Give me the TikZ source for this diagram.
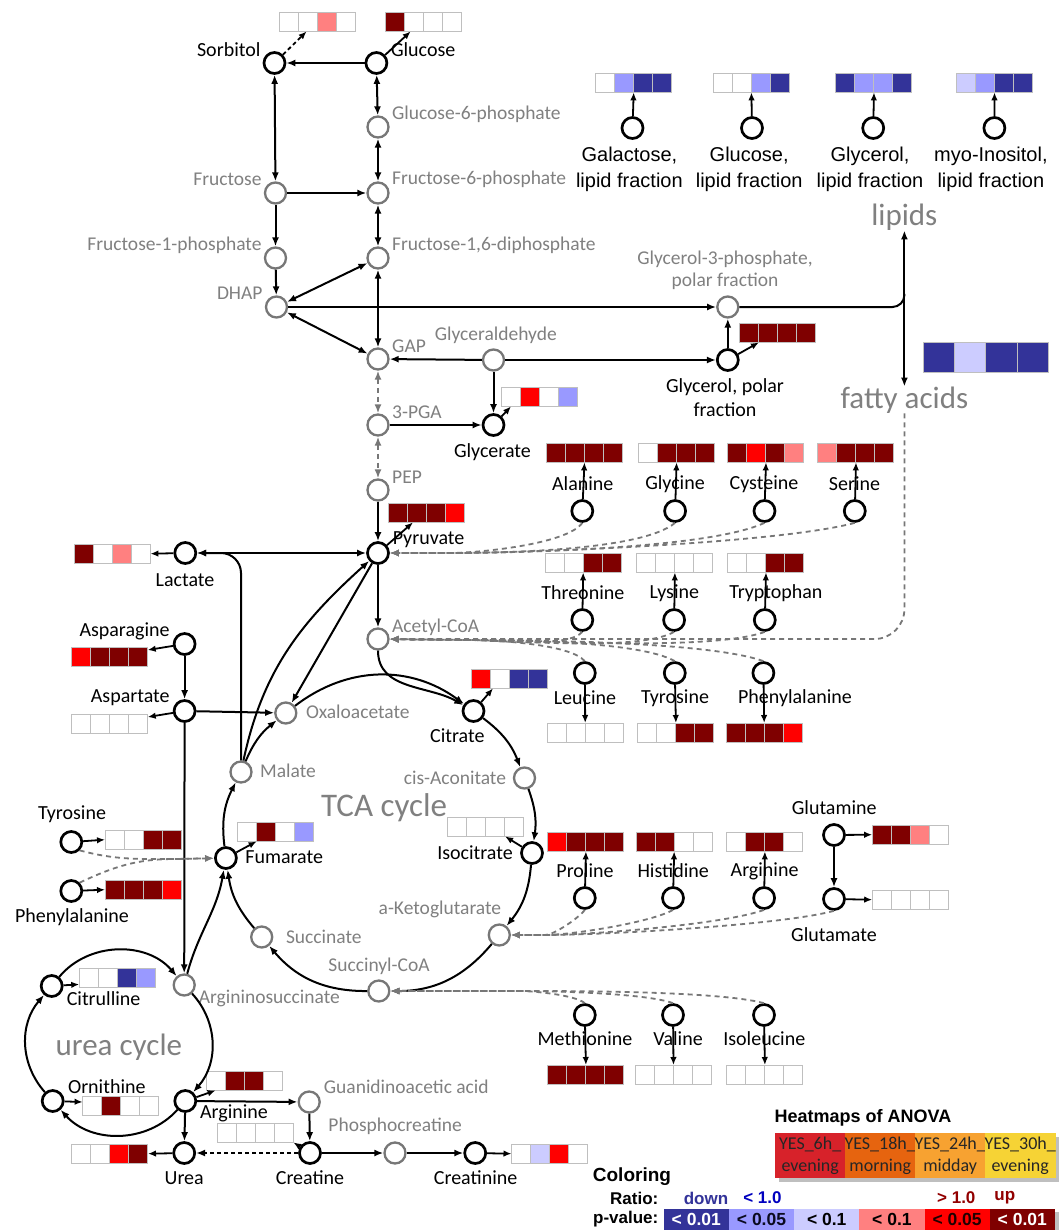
\documentclass[tikz,border=0pt]{standalone}
\usepackage{fontspec}
\setmainfont{Carlito}
\newfontfamily\arialfont{Liberation Sans}
\usetikzlibrary{arrows.meta, calc}

\definecolor{hmD}{HTML}{7F0000}
\definecolor{hmR}{HTML}{FF0000}
\definecolor{hmP}{HTML}{FF8080}
\definecolor{hmB}{HTML}{333399}
\definecolor{hmM}{HTML}{9999FF}
\definecolor{hmL}{HTML}{CCCCFF}
\definecolor{pathgray}{HTML}{777777}
\definecolor{txtgray}{HTML}{808080}
\definecolor{anA}{HTML}{D7222A}
\definecolor{anB}{HTML}{E6640F}
\definecolor{anC}{HTML}{F7A231}
\definecolor{anD}{HTML}{F6D335}

% heatmap: name, x, y (top left, pixels), four colours
\newcommand{\hmap}[7]{%
  \foreach \col [count=\i from 0] in {#4,#5,#6,#7}
    \draw[hmcell, fill=\col] (#2+19*\i,-#3) rectangle ++(19,-19);
  \node[hmbox, anchor=north west] (#1) at (#2,-#3) {};
}

\tikzset{
  met/.style={circle, draw=black, line width=2.7pt, minimum size=21pt, inner sep=0pt, fill=white},
  pmet/.style={met, draw=pathgray, line width=2.3pt},
  lbl/.style={inner sep=0pt, font=\fontsize{20}{24}\selectfont},
  glbl/.style={inner sep=0pt, text=txtgray, font=\fontsize{19.5}{22}\selectfont},
  biglbl/.style={inner sep=0pt, text=txtgray, font=\fontsize{31}{34}\selectfont},
  flbl/.style={inner sep=0pt, align=center, font=\arialfont\fontsize{20}{26}\selectfont},
  hmcell/.style={draw=black!25, line width=0.9pt},
  hmbox/.style={inner sep=0pt, minimum width=76pt, minimum height=19pt},
  line/.style={line width=2pt},
  arr/.style={line width=2pt, -{Latex[length=9pt,width=7pt]}},
  darr/.style={line width=2pt, {Latex[length=9pt,width=7pt]}-{Latex[length=9pt,width=7pt]}},
  hmarr/.style={line width=1.8pt, -{Latex[length=8pt,width=6.5pt]}},
  gdash/.style={line width=1.8pt, pathgray, dash pattern=on 5pt off 4pt, -{Latex[length=9pt,width=7pt]}},
  gdarr/.style={gdash, {Latex[length=9pt,width=7pt]}-{Latex[length=9pt,width=7pt]}},
  anova/.style={minimum width=70pt, minimum height=45pt, inner sep=0pt, align=center, text=black!85, font=\fontsize{18}{22}\selectfont},
  leg/.style={inner sep=0pt, font=\arialfont\bfseries\fontsize{17}{19}\selectfont},
  pcell/.style={minimum width=65.2pt, minimum height=21pt, inner sep=0pt, leg, font=\arialfont\bfseries\fontsize{17.5}{19}\selectfont},
}

\begin{document}
\begin{tikzpicture}[x=1pt, y=1pt]
\useasboundingbox (0,0) rectangle (1063,-1230);
\fill[white] (0,0) rectangle (1063,-1230);

% heatmaps
\hmap{hsorb}{279.6}{12}{white}{white}{hmP}{white}
\hmap{hglc}{385.7}{12}{hmD}{white}{white}{white}
\hmap{hgal}{595.5}{73}{white}{hmM}{hmB}{hmB}
\hmap{hglcL}{713.2}{73}{white}{white}{hmM}{hmB}
\hmap{hglyL}{835.8}{73}{hmB}{hmM}{hmM}{hmB}
\hmap{hino}{956.3}{73}{hmL}{hmM}{hmB}{hmB}
\hmap{hglyp}{739.9}{323}{hmD}{hmD}{hmD}{hmD}
\hmap{hglyc}{501}{387}{white}{hmR}{white}{hmM}
\hmap{hpyr}{388}{503}{hmD}{hmD}{hmD}{hmR}
\hmap{hlac}{74}{544}{hmD}{white}{hmP}{white}
\hmap{hala}{546.3}{443}{hmD}{hmD}{hmD}{hmD}
\hmap{hgly}{638.4}{443}{white}{hmD}{hmD}{hmD}
\hmap{hcys}{727.8}{443}{hmD}{hmR}{hmD}{hmP}
\hmap{hser}{817.8}{443}{hmP}{hmD}{hmD}{hmD}
\hmap{hthr}{545}{553}{white}{white}{hmD}{hmD}
\hmap{hlys}{636.7}{553}{white}{white}{white}{white}
\hmap{htrp}{727.8}{553}{white}{white}{hmD}{hmD}
\hmap{hasn}{71.3}{647}{hmR}{hmD}{hmD}{hmD}
\hmap{hasp}{71.3}{714}{white}{white}{white}{white}
\hmap{hcit}{471}{669}{hmR}{white}{hmB}{hmB}
\hmap{hleu}{547}{723}{white}{white}{white}{white}
\hmap{htyr}{637.7}{723}{white}{white}{hmD}{hmD}
\hmap{hphe}{726}{723}{hmD}{hmD}{hmD}{hmR}
\hmap{hiso}{447.7}{817}{white}{white}{white}{white}
\hmap{hfum}{237.6}{822}{white}{hmD}{white}{hmM}
\hmap{htyrL}{105}{830}{white}{white}{hmD}{hmD}
\hmap{hpheL}{105}{880}{hmD}{hmD}{hmD}{hmR}
\hmap{hpro}{547.7}{832}{hmR}{hmD}{hmD}{hmD}
\hmap{hhis}{636}{832}{hmD}{hmD}{white}{white}
\hmap{hargR}{726.7}{832}{white}{hmD}{hmD}{white}
\hmap{hgln}{872.2}{825}{hmD}{hmD}{hmP}{white}
\hmap{hglu}{872.2}{890}{white}{white}{white}{white}
\hmap{hcitr}{79.2}{968}{white}{white}{hmB}{hmM}
\hmap{hmet}{547.7}{1065}{hmD}{hmD}{hmD}{hmD}
\hmap{hval}{635.3}{1065}{white}{white}{white}{white}
\hmap{hile}{726.7}{1065}{white}{white}{white}{white}
\hmap{hargU}{206.6}{1071}{white}{hmD}{hmD}{white}
\hmap{horn}{82.6}{1096}{white}{hmD}{white}{white}
\hmap{hcrt}{217}{1123}{white}{white}{white}{white}
\hmap{hurea}{71.6}{1144}{white}{white}{hmR}{hmD}
\hmap{hcrn}{511.5}{1144}{white}{hmL}{hmR}{white}
\foreach \col [count=\i from 0] in {hmB,hmL,hmB,hmB}
  \draw[hmcell, fill=\col] (923.4+31.2*\i,-342) rectangle ++(31.2,-30);

% labels
\node[lbl, anchor=east] (sorb-l) at (260.7,-50) {Sorbitol};
\node[lbl, anchor=west] (glc-l) at (390.8,-50) {Glucose};
\node[glbl, anchor=west] (g6p-l) at (391.9,-114) {Glucose-6-phosphate};
\node[glbl, anchor=east] (fru-l) at (261.7,-179) {Fructose};
\node[glbl, anchor=west] (f6p-l) at (391.9,-179) {Fructose-6-phosphate};
\node[glbl, anchor=east] (f1p-l) at (261.7,-245) {Fructose-1-phosphate};
\node[glbl, anchor=west] (f16p-l) at (391.9,-245) {Fructose-1,6-diphosphate};
\node[glbl, anchor=east] (dhap-l) at (262.7,-293) {DHAP};
\node[glbl, anchor=west] (gap-l) at (392,-346) {GAP};
\node[glbl, anchor=west] (glyald-l) at (434.6,-335) {Glyceraldehyde};
\node[glbl, anchor=west] (pga-l) at (392,-412) {3-PGA};
\node[glbl, anchor=west] (pep-l) at (392,-477) {PEP};
\node[glbl, anchor=west] (acoa-l) at (392,-627) {Acetyl-CoA};
\node[glbl, anchor=west] (oaa-l) at (305.8,-712) {Oxaloacetate};
\node[glbl, anchor=west] (mal-l) at (260,-771) {Malate};
\node[glbl, anchor=east] (cis-l) at (506.2,-778) {cis-Aconitate};
\node[glbl] (akg-l) at (439.9,-909) {a-Ketoglutarate};
\node[glbl, anchor=west] (succ-l) at (285.8,-937) {Succinate};
\node[glbl] (scoa-l) at (379,-966) {Succinyl-CoA};
\node[glbl, anchor=west] (asuc-l) at (198.7,-998) {Argininosuccinate};
\node[glbl, anchor=west] (gaa-l) at (323.7,-1087) {Guanidinoacetic acid};
\node[glbl] (pcr-l) at (395.2,-1126) {Phosphocreatine};
\node[glbl, align=center] (g3p-l) at (725,-270) {Glycerol-3-phosphate,\\polar fraction};

\node[lbl, anchor=west] (pyr-l) at (392.6,-540) {Pyruvate};
\node[lbl] (lac-l) at (185,-580) {Lactate};
\node[lbl, anchor=east] (asn-l) at (169.8,-631) {Asparagine};
\node[lbl, anchor=east] (asp-l) at (169.8,-698) {Aspartate};
\node[lbl] (cit-l) at (457.3,-736) {Citrate};
\node[lbl] (glyc-l) at (492.4,-452) {Glycerate};
\node[lbl, align=center] (glyp-l) at (725,-398) {Glycerol, polar\\fraction};
\node[lbl] (ala-l) at (582.8,-484) {Alanine};
\node[lbl] (gly-l) at (675,-484) {Glycine};
\node[lbl] (cys-l) at (764,-484) {Cysteine};
\node[lbl] (ser-l) at (854.5,-484) {Serine};
\node[lbl] (thr-l) at (582.8,-593) {Threonine};
\node[lbl] (lys-l) at (674.4,-593) {Lysine};
\node[lbl] (trp-l) at (775.9,-593) {Tryptophan};
\node[lbl] (leu-l) at (585,-698) {Leucine};
\node[lbl] (tyr-l) at (675,-698) {Tyrosine};
\node[lbl] (phe-l) at (795,-698) {Phenylalanine};
\node[lbl] (pro-l) at (585,-871) {Proline};
\node[lbl] (his-l) at (673.2,-871) {Histidine};
\node[lbl] (argR-l) at (764.6,-871) {Arginine};
\node[lbl] (gln-l) at (834.2,-808) {Glutamine};
\node[lbl] (glu-l) at (834,-935) {Glutamate};
\node[lbl] (met-l) at (585,-1039) {Methionine};
\node[lbl] (val-l) at (678,-1039) {Valine};
\node[lbl] (ile-l) at (764.3,-1039) {Isoleucine};
\node[lbl] (tyrL-l) at (72,-814) {Tyrosine};
\node[lbl] (pheL-l) at (72,-917) {Phenylalanine};
\node[lbl, anchor=east] (iso-l) at (513,-853) {Isocitrate};
\node[lbl, anchor=west] (fum-l) at (245.2,-857) {Fumarate};
\node[lbl] (citr-l) at (103.6,-999) {Citrulline};
\node[lbl] (orn-l) at (106.8,-1087) {Ornithine};
\node[lbl] (argU-l) at (234,-1113) {Arginine};
\node[lbl] (urea-l) at (184.2,-1178) {Urea};
\node[lbl] (crt-l) at (310,-1178) {Creatine};
\node[lbl] (crn-l) at (475.6,-1178) {Creatinine};

\node[flbl] (galL-l) at (629.4,-169) {Galactose,\\lipid fraction};
\node[flbl] (glcL-l) at (749.2,-169) {Glucose,\\lipid fraction};
\node[flbl] (glyL-l) at (870,-169) {Glycerol,\\lipid fraction};
\node[flbl] (inoL-l) at (990.9,-169) {myo-Inositol,\\lipid fraction};

\node[biglbl] (lipids) at (904.4,-217) {lipids};
\node[biglbl] (fa) at (904.4,-400) {fatty acids};
\node[biglbl, font=\fontsize{33}{36}\selectfont] (tca) at (384,-808) {TCA cycle};
\node[biglbl] (ureac) at (118.8,-1047) {urea cycle};

% metabolites
\node[met]  (sorb)   at (274.5,-63) {};
\node[met]  (glc)    at (376.4,-63) {};
\node[pmet] (g6p)    at (378,-127) {};
\node[pmet] (fru)    at (275.5,-193) {};
\node[pmet] (f6p)    at (378,-193) {};
\node[pmet] (f1p)    at (275.5,-258) {};
\node[pmet] (f16p)   at (378,-258) {};
\node[pmet] (dhap)   at (276.5,-307) {};
\node[pmet] (gap)    at (378,-359) {};
\node[pmet] (glyald) at (493.5,-360) {};
\node[pmet] (pga)    at (378,-425) {};
\node[met]  (glyc)   at (493.5,-425) {};
\node[pmet] (pep)    at (378,-490) {};
\node[met]  (pyr)    at (378,-553) {};
\node[met]  (lac)    at (185.3,-553) {};
\node[pmet] (acoa)   at (378,-639) {};
\node[met]  (asn)    at (184.6,-644) {};
\node[met]  (asp)    at (184.6,-711) {};
\node[pmet] (oaa)    at (285.8,-713) {};
\node[met]  (cit)    at (473.5,-711) {};
\node[pmet] (mal)    at (241,-772) {};
\node[pmet] (cis)    at (524.5,-778) {};
\node[met]  (iso)    at (532,-853) {};
\node[pmet] (akg)    at (499.3,-935) {};
\node[pmet] (scoa)   at (378.8,-991) {};
\node[pmet] (succ)   at (261.7,-937) {};
\node[met]  (fum)    at (225.9,-858) {};
\node[met]  (tyrL)   at (71.3,-842) {};
\node[met]  (pheL)   at (71.3,-891) {};
\node[pmet] (asuc)   at (184.2,-985) {};
\node[met]  (citr)   at (51.7,-986) {};
\node[met]  (orn)    at (52.7,-1101) {};
\node[met]  (argU)   at (185.3,-1101) {};
\node[pmet] (gaa)    at (309.2,-1102) {};
\node[met]  (urea)   at (184.2,-1153) {};
\node[met]  (crt)    at (310,-1153) {};
\node[pmet] (pcr)    at (395,-1153) {};
\node[met]  (crn)    at (475.2,-1153) {};
\node[met]  (galL)   at (632.5,-128) {};
\node[met]  (glcL)   at (752,-128) {};
\node[met]  (glyL)   at (873.2,-128) {};
\node[met]  (inoL)   at (994.4,-128) {};
\node[pmet] (g3p)    at (727.8,-307) {};
\node[met]  (glyp)   at (727.8,-360) {};
\node[met]  (ala)    at (582.3,-511) {};
\node[met]  (gly)    at (675.1,-511) {};
\node[met]  (cys)    at (764.5,-511) {};
\node[met]  (ser)    at (854.8,-511) {};
\node[met]  (thr)    at (582.3,-620) {};
\node[met]  (lys)    at (674.1,-620) {};
\node[met]  (trp)    at (764.8,-620) {};
\node[met]  (leu)    at (584.8,-673) {};
\node[met]  (tyr)    at (674.8,-673) {};
\node[met]  (phe)    at (763.4,-673) {};
\node[met]  (pro)    at (584.8,-898) {};
\node[met]  (his)    at (673,-898) {};
\node[met]  (argR)   at (764.1,-898) {};
\node[met]  (gln)    at (834,-835) {};
\node[met]  (glu)    at (834,-899) {};
\node[met]  (met)    at (584.8,-1015) {};
\node[met]  (val)    at (673,-1015) {};
\node[met]  (ile)    at (764,-1015) {};

% glycolysis and sugars
\draw[arr] (glc) -- (sorb);
\draw[darr] (sorb) -- (fru);
\draw[darr] (glc) -- (g6p);
\draw[darr] (g6p) -- (f6p);
\draw[arr] (fru) -- (f6p);
\draw[arr] (fru) -- (f1p);
\draw[darr] (f6p) -- (f16p);
\draw[arr] (f1p) -- (dhap);
\draw[darr] (dhap) -- (f16p);
\draw[darr] (dhap) -- (gap);
\draw[darr] (f16p) -- (gap);
\draw[arr] (dhap) -- (g3p);
\draw[arr] (glyald) -- (gap);
\draw[arr] (glyald) -- (glyp);
\draw[arr] (glyald) -- (glyc);
\draw[arr] (glyp) -- (g3p);
\draw[gdarr] (gap) -- (pga);
\draw[gdarr] (pga) -- (pep);
\draw[arr] (pga) -- (glyc);
\draw[arr] (pep) -- (pyr);

% lipids
\coordinate (lipj) at (904.4,-294);
\draw[darr] (lipids.south) -- (fa.north);
\draw[line, rounded corners=12pt] (g3p) -| (lipj);
\draw[gdash, rounded corners=30pt] (fa.south) |- (acoa);

% pyruvate branch
\draw[darr] (lac) -- (pyr);
\draw[arr, rounded corners=20pt] (mal.north) |- (lac.east);
\draw[arr] (mal) to[out=78, in=-138] (pyr);
\draw[arr] (pyr) -- (oaa);
\draw[arr] (pyr) -- (acoa);
\draw[arr] (acoa) to[out=-90, in=150] (cit);

% TCA cycle
\draw[arr] (oaa) to[bend left=37] (cit);
\draw[arr] (cit) to[bend left=16] (cis);
\draw[arr] (cis) to[bend left=14] (iso);
\draw[arr] (iso) to[bend left=17] (akg);
\draw[arr] (akg) to[bend left=25] (scoa);
\draw[arr] (scoa) to[bend left=25] (succ);
\draw[arr] (succ) to[bend left=16] (fum);
\draw[arr] (fum) to[bend left=17] (mal);
\draw[arr] (mal) to[bend left=14] (oaa);

% aspartate and urea cycle
\draw[arr] (asn) -- (asp);
\draw[arr] (asp) -- (oaa);
\draw[arr] (asp) -- (asuc);
\draw[arr] (asuc) to[out=75, in=-100] (fum);
\draw[arr] (citr) to[bend left=50] (asuc);
\draw[arr] (asuc) to[bend left=42] (argU);
\draw[arr] (argU) to[bend left=48] (orn);
\draw[arr] (orn) to[bend left=41] (citr);
\draw[arr] (argU) -- (urea);
\draw[arr] (argU) -- (gaa);
\draw[arr] (gaa) -- (crt);
\draw[arr, dash pattern=on 4pt off 3pt] (crt) -- (urea);
\draw[arr] (crt) -- (pcr);
\draw[arr] (pcr) -- (crn);
\draw[arr] (gln) -- (glu);

% amino acid inputs
\coordinate (pyrin) at (450,-553);
\foreach \aa/\ang in {ala/-125, gly/-140, cys/-155, ser/-165}
  \draw[gdash] (\aa.south) to[out=\ang, in=0, looseness=0.5] (pyrin) -- (pyr);
\coordinate (acoain) at (470,-640);
\foreach \aa/\ang in {thr/-130, lys/-150, trp/-160}
  \draw[gdash] (\aa.south) to[out=\ang, in=0, looseness=0.5] (acoain) -- (acoa);
\foreach \aa/\ang in {leu/130, tyr/150, phe/160}
  \draw[gdash] (\aa.north) to[out=\ang, in=0, looseness=0.5] (acoain) -- (acoa);
\coordinate (akgin) at (545,-935);
\foreach \aa/\ang in {pro/-125, his/-150, argR/-160, glu/-165}
  \draw[gdash] (\aa.south) to[out=\ang, in=0, looseness=0.5] (akgin) -- (akg);
\coordinate (scoain) at (520,-991);
\foreach \aa/\ang in {met/140, val/160, ile/165}
  \draw[gdash] (\aa.north) to[out=\ang, in=0, looseness=0.5] (scoain) -- (scoa);
\coordinate (fumin) at (175,-859);
\draw[gdash] (tyrL.south east) to[out=-15, in=180] (fumin) -- (fum);
\draw[gdash] (pheL.north east) to[out=25, in=180] (fumin) -- (fum);

% arrows to heatmaps
\draw[hmarr, dash pattern=on 4pt off 3pt] (sorb) -- ($(hsorb.south west)+(27,0)$);
\draw[hmarr] (glc) -- ($(hglc.south west)+(25,0)$);
\foreach \m/\h in {galL/hgal, glcL/hglcL, glyL/hglyL, inoL/hino}
  \draw[hmarr] (\m) -- (\h.south);
\draw[hmarr] (glyp) -- ($(hglyp.south west)+(19,0)$);
\draw[hmarr] (glyc) -- ($(hglyc.south west)+(10,0)$);
\draw[hmarr] (pyr) -- ($(hpyr.south west)+(25,0)$);
\draw[hmarr] (lac) -- (hlac.east);
\draw[hmarr] (asn) -- ($(hasn.north east)+(0,-3)$);
\draw[hmarr] (asp) -- ($(hasp.north east)+(0,-3)$);
\draw[hmarr] (cit) -- ($(hcit.south west)+(22,0)$);
\draw[hmarr] (iso) -- ($(hiso.south east)+(-19,0)$);
\draw[hmarr] (fum) -- ($(hfum.south west)+(19,0)$);
\draw[hmarr] (tyrL) -- (htyrL.west);
\draw[hmarr] (pheL) -- (hpheL.west);
\draw[hmarr] (citr) -- ($(hcitr.south west)+(0,3)$);
\draw[hmarr] (orn) -- ($(horn.north west)+(0,-6)$);
\draw[hmarr] (argU) -- ($(hargU.south west)+(9,0)$);
\draw[hmarr] (urea) -- (hurea.east);
\draw[hmarr] (crt) -- (hcrt.south east);
\draw[hmarr] (crn) -- (hcrn.west);
\foreach \m in {ala, gly, cys, ser, thr, lys, trp, pro, his, argR}
  \draw[hmarr] (\m) -- (h\m.south);
\foreach \m in {leu, tyr, phe, met, val, ile}
  \draw[hmarr] (\m) -- (h\m.north);
\draw[hmarr] (gln) -- (hgln.west);
\draw[hmarr] (glu) -- (hglu.west);

% legend
\node[inner sep=0pt, anchor=west, font=\arialfont\bfseries\fontsize{18}{20}\selectfont] (anova-t) at (774.5,-1118) {Heatmaps of ANOVA};
\fill[black, opacity=0.25] (779,-1137) rectangle (1059,-1182);
\foreach \tc/\ta/\tb [count=\i from 0] in {anA/6h/evening, anB/18h/morning, anC/24h/midday, anD/30h/evening}
  \node[anova, fill=\tc] (an\i) at (810.2+70*\i,-1155.5) {YES\_\ta\_\\\tb};
\node[inner sep=0pt, anchor=west, font=\arialfont\bfseries\fontsize{19}{21}\selectfont] (col-t) at (592.7,-1177) {Coloring};
\node[leg, anchor=east] (ratio-l) at (658.5,-1198) {Ratio:};
\node[leg, anchor=east] (pval-l) at (658.5,-1219) {p-value:};
\node[leg, text=hmB] (down-l) at (706,-1198) {down};
\node[leg, text=blue!75!black] (lt-l) at (762.4,-1198) {< 1.0};
\node[leg, text=hmD!85!red] (gt-l) at (956.3,-1198) {> 1.0};
\node[leg, text=hmD!85!red] (up-l) at (1004.8,-1198) {up};
\fill[black, opacity=0.25] (667,-1212) rectangle (1059,-1230);
\foreach \pc/\ptc/\ptx [count=\i from 0] in {hmB/white/< 0.01, hmM/black!80!hmB/< 0.05, hmL/black/< 0.1, hmP/black/< 0.1, hmR/black!75!hmD/< 0.05, hmD/white/< 0.01}
  \node[pcell, fill=\pc, text=\ptc] (pc\i) at (696.3+65.2*\i,-1219.5) {\ptx};
\end{tikzpicture}
\end{document}
